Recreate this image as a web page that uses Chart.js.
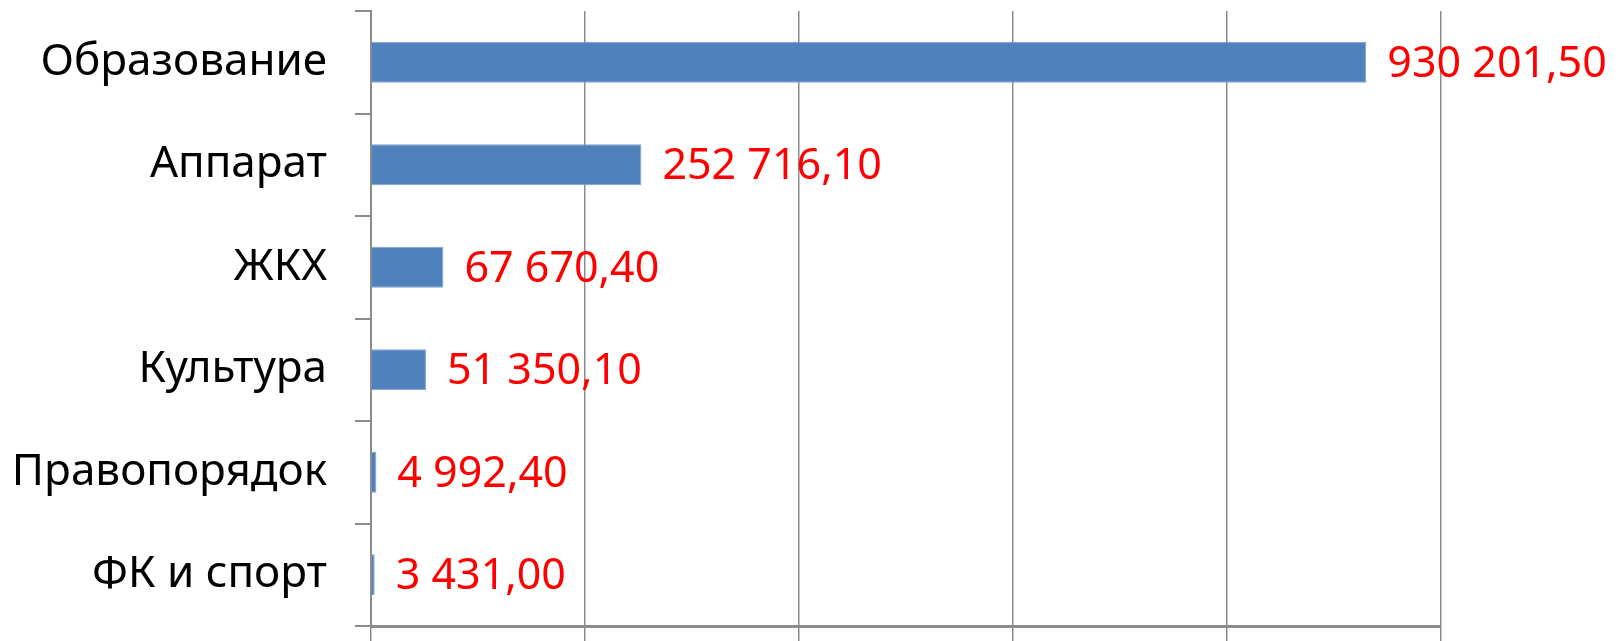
<!DOCTYPE html>
<html>
<head>
<meta charset="utf-8">
<script src="https://cdn.jsdelivr.net/npm/chart.js@4/dist/chart.umd.min.js"></script>
<style>
  body { margin: 0; background: #fff; }
</style>
</head>
<body>
<canvas id="plotSpend" width="1621" height="641"></canvas>
<script>
var categories = ['Образование', 'Аппарат', 'ЖКХ', 'Культура', 'Правопорядок', 'ФК и спорт'];
var spendData = [930201.5, 252716.1, 67670.4, 51350.1, 4992.4, 3431.0];
var axisMax = 1000000;
var axisStep = 200000;

// 930201.5 -> "930 201,50"
function fmt(v) {
    var parts = v.toFixed(2).split('.');
    var intPart = parts[0].replace(/\B(?=(\d{3})+(?!\d))/g, ' ');
    return intPart + ',' + parts[1];
}

var valueLabels = {
    id: 'valueLabels',
    afterDatasetsDraw: function(chart) {
        var c = chart.ctx;
        var meta = chart.getDatasetMeta(0);
        c.save();
        c.font = '43px "Noto Sans"';
        c.fillStyle = '#ff0000';
        c.textAlign = 'left';
        c.textBaseline = 'middle';
        meta.data.forEach(function(bar, i) {
            c.fillText(fmt(spendData[i]), bar.x + 21, bar.y + 2);
        });
        c.restore();
    }
};

var ctx = document.getElementById('plotSpend').getContext('2d');
var myChart = new Chart(ctx, {
    type: 'bar',
    data: {
        labels: categories,
        datasets: [{
            data: spendData,
            backgroundColor: '#4f81bd',
            borderColor: '#7a9fd0',
            borderWidth: 1,
            categoryPercentage: 0.4,
            barPercentage: 1.0
        }]
    },
    options: {
        indexAxis: 'y',
        responsive: false,
        animation: false,
        layout: {
            padding: { top: 11, right: 180, left: 0, bottom: 0 }
        },
        plugins: {
            legend: { display: false },
            tooltip: { enabled: false }
        },
        scales: {
            x: {
                min: 0,
                max: axisMax,
                ticks: { display: false, stepSize: axisStep },
                grid: {
                    color: '#8c8c8c',
                    lineWidth: 1.5,
                    drawTicks: true,
                    tickLength: 15
                },
                border: { color: '#8c8c8c', width: 3 },
                afterFit: function(scale) {
                    scale.height = 15;
                    scale.paddingLeft = 0;
                    scale.paddingRight = 0;
                }
            },
            y: {
                ticks: {
                    color: '#000',
                    padding: 28,
                    font: { family: '"Noto Sans"', size: 44 }
                },
                grid: {
                    offset: true,
                    drawOnChartArea: false,
                    color: '#8c8c8c',
                    lineWidth: 2,
                    tickLength: 16
                },
                border: { color: '#8c8c8c', width: 2 },
                afterFit: function(scale) {
                    scale.width = 371;
                    scale.paddingTop = 0;
                    scale.paddingBottom = 0;
                }
            }
        }
    },
    plugins: [valueLabels]
});
</script>
</body>
</html>
